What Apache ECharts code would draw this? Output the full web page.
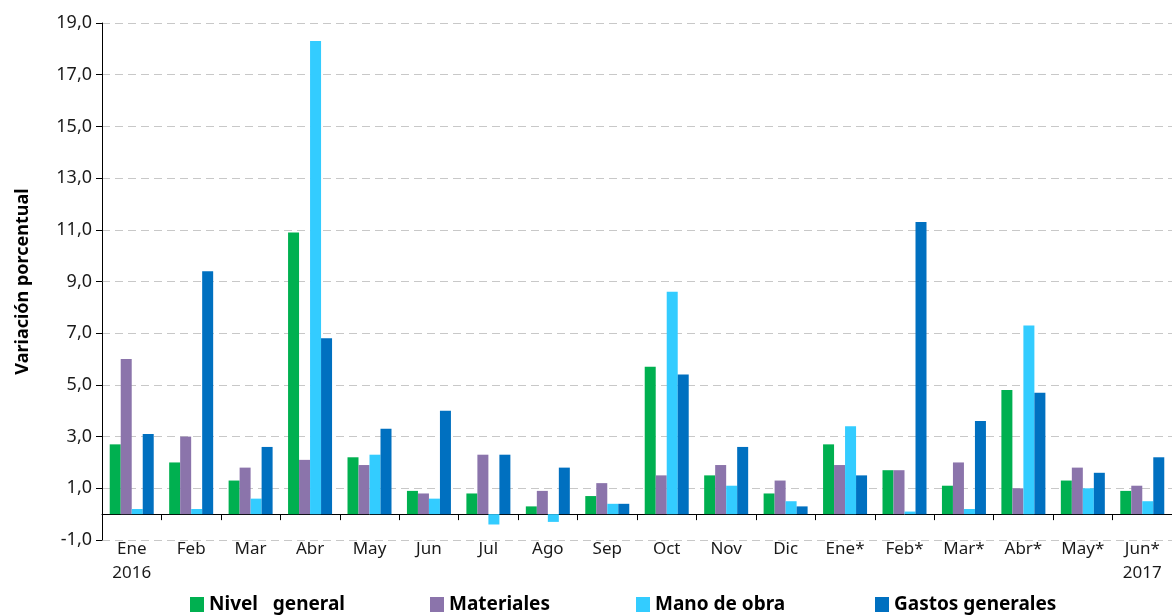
<!DOCTYPE html>
<html>
<head>
<meta charset="utf-8">
<script src="https://cdn.jsdelivr.net/npm/echarts@6/dist/echarts.min.js"></script>
<style>html,body{margin:0;padding:0;background:#fff}#c{width:1172px;height:615px}</style>
</head>
<body>
<div id="c"></div>
<script>
const categories = ['Ene\n2016','Feb','Mar','Abr','May','Jun','Jul','Ago','Sep','Oct','Nov','Dic','Ene*','Feb*','Mar*','Abr*','May*','Jun*\n2017'];
const nivelGeneral = [2.7,2.0,1.3,10.9,2.2,0.9,0.8,0.3,0.7,5.7,1.5,0.8,2.7,1.7,1.1,4.8,1.3,0.9];
const materiales   = [6.0,3.0,1.8,2.1,1.9,0.8,2.3,0.9,1.2,1.5,1.9,1.3,1.9,1.7,2.0,1.0,1.8,1.1];
const manoDeObra   = [0.2,0.2,0.6,18.3,2.3,0.6,-0.4,-0.3,0.4,8.6,1.1,0.5,3.4,0.1,0.2,7.3,1.0,0.5];
const gastosGenerales = [3.1,9.4,2.6,6.8,3.3,4.0,2.3,1.8,0.4,5.4,2.6,0.3,1.5,11.3,3.6,4.7,1.6,2.2];
const seriesNames = ['Nivel   general','Materiales','Mano de obra','Gastos generales'];
const colors = ['#00B050','#8B74AB','#33CCFF','#0070C0'];
const font = 'Noto Sans';

const chart = echarts.init(document.getElementById('c'));
const dataSets = [nivelGeneral, materiales, manoDeObra, gastosGenerales];
const legendLefts = [190, 430, 636, 875];
chart.setOption({
  animation: false,
  textStyle: {fontFamily: font},
  grid: {left: 102, top: 23, height: 517, width: 1077},
  legend: seriesNames.map((n, i) => ({
    data: [n], left: legendLefts[i], top: 595, icon: 'rect', itemWidth: 14, itemHeight: 15,
    padding: 0, itemGap: 0,
    textStyle: {fontFamily: font, fontSize: 19, fontWeight: 'bold', color: '#000'}
  })),
  xAxis: {
    type: 'category', data: categories,
    axisLine: {onZero: true, lineStyle: {color: '#000', width: 1}},
    axisTick: {show: true, alignWithLabel: false, length: 6, lineStyle: {color: '#000'}},
    axisLabel: {margin: -3, fontSize: 17, color: '#1a1a1a', fontFamily: font, lineHeight: 24, interval: 0},
    splitLine: {show: false}
  },
  yAxis: {
    type: 'value', min: -1, max: 19, interval: 2,
    name: 'Variación porcentual', nameLocation: 'middle', nameGap: 70,
    nameTextStyle: {fontSize: 18, fontWeight: 'bold', color: '#000', fontFamily: font},
    axisLine: {show: true, lineStyle: {color: '#000'}},
    axisTick: {show: true, length: 6, lineStyle: {color: '#000'}},
    axisLabel: {fontSize: 18, color: '#1a1a1a', margin: 10, fontFamily: font,
      formatter: v => v.toFixed(1).replace('.', ',')},
    splitLine: {show: true, lineStyle: {color: '#C8C8C8', type: [8, 5], width: 1}}
  },
  series: seriesNames.map((n, i) => ({
    name: n, type: 'bar', data: dataSets[i], barWidth: 11, barGap: '0%',
    itemStyle: {color: colors[i]}
  }))
});
</script>
</body>
</html>
